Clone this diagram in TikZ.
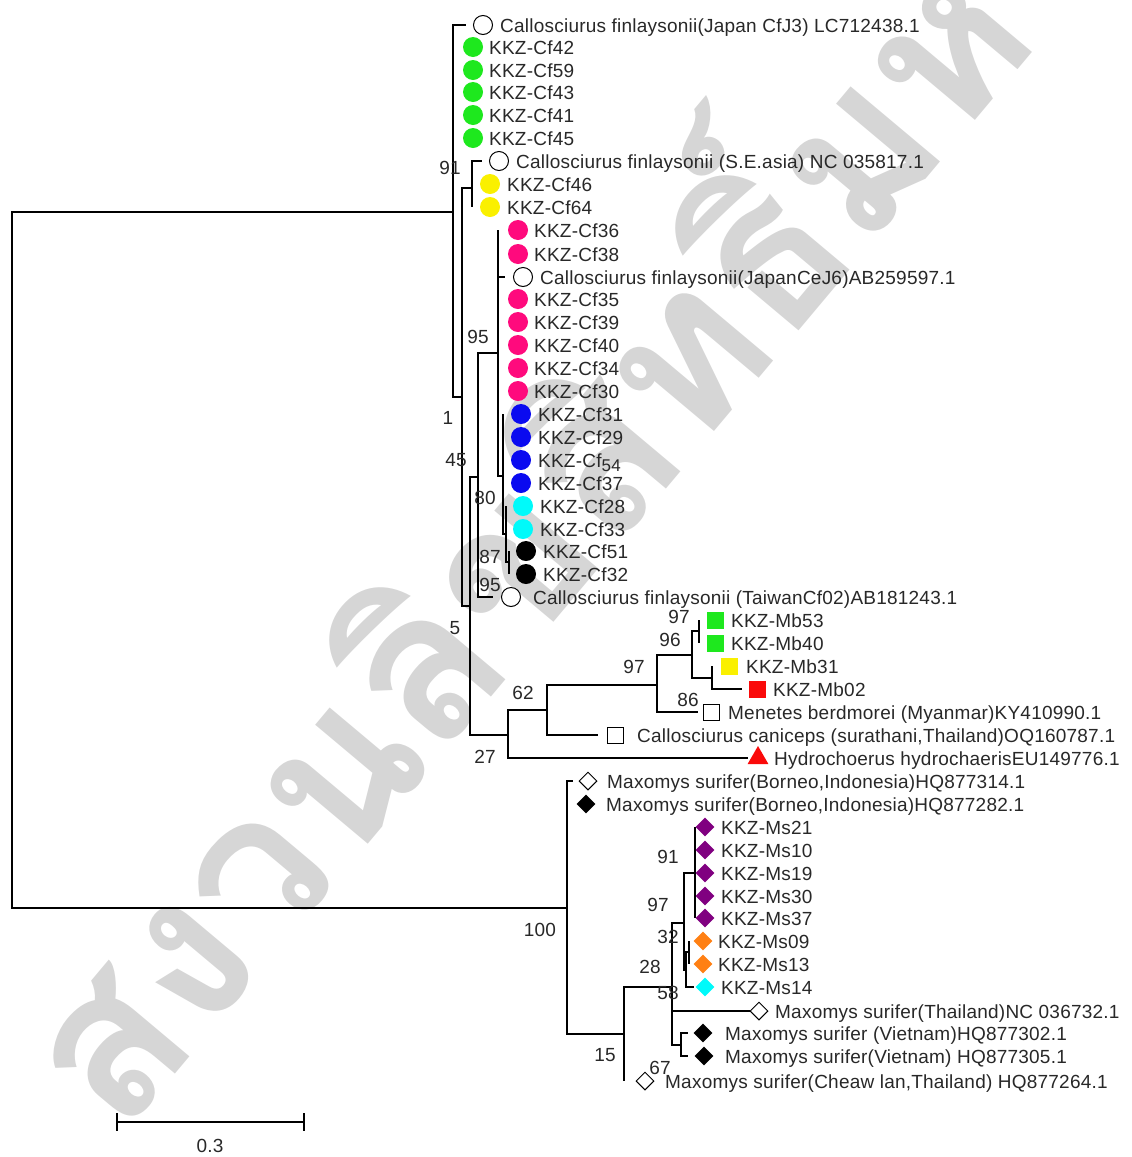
\documentclass[tikz,border=0pt]{standalone}
\usepackage{fontspec}
\setmainfont[LetterSpace=1.2]{Liberation Sans}
\newfontfamily\thaifont[Script=Thai]{Loma}
\usetikzlibrary{shapes.geometric}
\newcommand\treefont{\fontsize{19}{22}\selectfont}
\definecolor{cgreen}{RGB}{30,232,30}
\definecolor{cyellow}{RGB}{250,240,0}
\definecolor{cpink}{RGB}{255,10,125}
\definecolor{cblue}{RGB}{10,10,240}
\definecolor{ccyan}{RGB}{0,250,250}
\definecolor{cpurple}{RGB}{128,0,128}
\definecolor{corange}{RGB}{255,128,20}
\definecolor{cred}{RGB}{250,10,10}
\definecolor{ctext}{RGB}{40,40,40}
\definecolor{cwm}{RGB}{214,214,214}
\tikzset{
  br/.style={line width=2.2pt, line join=miter},
  lbl/.style={anchor=west, inner sep=0pt, font=\treefont, text=ctext, text height=14pt, text depth=0pt},
  bsl/.style={inner sep=0pt, font=\treefont, text=ctext},
  dot/.style={circle, fill=#1, minimum size=20pt, inner sep=0pt},
  oc/.style={circle, draw=black, line width=1pt, fill=white, minimum size=19pt, inner sep=0pt},
  sq/.style={rectangle, fill=#1, minimum size=17pt, inner sep=0pt},
  osq/.style={rectangle, draw=black, line width=1pt, fill=white, minimum size=16pt, inner sep=0pt},
  dm/.style={diamond, fill=#1, minimum width=19pt, minimum height=19pt, inner sep=0pt},
  odm/.style={diamond, draw=black, line width=1pt, fill=white, minimum width=18pt, minimum height=18pt, inner sep=0pt},
  tri/.style={regular polygon, regular polygon sides=3, fill=cred, minimum size=24pt, inner sep=0pt},
  wm/.style={inner sep=0pt, text=cwm, font=\thaifont\bfseries\fontsize{210}{210}\selectfont}
}
% name, parent, tip x, y, marker style, marker x, text x, text
\newcommand\leaf[8]{%
  \coordinate (t#1) at (#3,#4);
  \draw[br] (#2) |- (t#1);
  \node[#5] (m#1) at (#6,#4) {};
  \node[lbl] (l#1) at (#7,#4) {#8};
}
\begin{document}
\begin{tikzpicture}[x=1pt,y=-1pt]
\useasboundingbox (0,0) rectangle (1132,1157);
\begin{scope}
\clip (0,0) rectangle (1132,1157);
\node[wm, rotate=50, anchor=base west] (wm) at (120,1140) {สงวนลิขสิทธิ์มหาวิทยาลัยขอนแก่น};
\end{scope}

% internal nodes
\coordinate (R) at (12,560.5);
\coordinate (U) at (453,212);
\coordinate (N1) at (462,397);
\coordinate (N91) at (472,188);
\coordinate (N5) at (470,606);
\coordinate (N45) at (478,477);
\coordinate (N95a) at (498,353);
\coordinate (N80) at (503,476);
\coordinate (N87) at (506,534);
\coordinate (N95b) at (509,562);
\coordinate (N27) at (508,735);
\coordinate (N62) at (547,710);
\coordinate (N97a) at (657,685);
\coordinate (N96) at (692,655);
\coordinate (N97b) at (699,631);
\coordinate (NM) at (712,678);
\coordinate (N100) at (567,908);
\coordinate (N15) at (624,1034);
\coordinate (N28) at (672,987);
\coordinate (N97m) at (684,923);
\coordinate (N91m) at (695,873);
\coordinate (N58) at (686,970);
\coordinate (N32) at (689,952);
\coordinate (N67) at (681,1045);

\draw[br] (R) |- (U);
\draw[br] (R) |- (N100);
\draw[br] (U) |- (N1);
\draw[br] (N1) |- (N91);
\draw[br] (N1) |- (N5);
\draw[br] (N5) |- (N45);
\draw[br] (N5) |- (N27);
\draw[br] (N45) |- (N95a);
\draw[br] (N95a) |- (N80);
\draw[br] (N80) |- (N87);
\draw[br] (N87) |- (N95b);
\draw[br] (N27) |- (N62);
\draw[br] (N62) |- (N97a);
\draw[br] (N97a) |- (N96);
\draw[br] (N96) |- (N97b);
\draw[br] (N96) |- (NM);
\draw[br] (N100) |- (N15);
\draw[br] (N15) |- (N28);
\draw[br] (N28) |- (N97m);
\draw[br] (N28) |- (N67);
\draw[br] (N97m) |- (N91m);
\draw[br] (N97m) |- (N58);
\draw[br] (N58) |- (N32);

% leaves
\leaf{a1}{U}{466}{25}{oc}{483}{500}{Callosciurus finlaysonii(Japan CfJ3) LC712438.1}
\leaf{a2}{U}{453}{47}{dot=cgreen}{473}{489}{KKZ-Cf42}
\leaf{a3}{U}{453}{70}{dot=cgreen}{473}{489}{KKZ-Cf59}
\leaf{a4}{U}{453}{92}{dot=cgreen}{473}{489}{KKZ-Cf43}
\leaf{a5}{U}{453}{115}{dot=cgreen}{473}{489}{KKZ-Cf41}
\leaf{a6}{U}{453}{138}{dot=cgreen}{473}{489}{KKZ-Cf45}
\leaf{a7}{N91}{482}{161}{oc}{499}{516}{Callosciurus finlaysonii (S.E.asia) NC 035817.1}
\leaf{a8}{N91}{472}{184}{dot=cyellow}{490}{507}{KKZ-Cf46}
\leaf{a9}{N91}{472}{207}{dot=cyellow}{490}{507}{KKZ-Cf64}
\leaf{a10}{N95a}{498}{230}{dot=cpink}{518}{534}{KKZ-Cf36}
\leaf{a11}{N95a}{498}{254}{dot=cpink}{518}{534}{KKZ-Cf38}
\leaf{a12}{N95a}{505}{277}{oc}{523}{540}{Callosciurus finlaysonii(JapanCeJ6)AB259597.1}
\leaf{a13}{N95a}{498}{299}{dot=cpink}{518}{534}{KKZ-Cf35}
\leaf{a14}{N95a}{498}{322}{dot=cpink}{518}{534}{KKZ-Cf39}
\leaf{a15}{N95a}{498}{345}{dot=cpink}{518}{534}{KKZ-Cf40}
\leaf{a16}{N95a}{498}{368}{dot=cpink}{518}{534}{KKZ-Cf34}
\leaf{a17}{N95a}{498}{391}{dot=cpink}{518}{534}{KKZ-Cf30}
\leaf{a18}{N80}{503}{414}{dot=cblue}{521}{538}{KKZ-Cf31}
\leaf{a19}{N80}{503}{437}{dot=cblue}{521}{538}{KKZ-Cf29}
\leaf{a20}{N80}{503}{460}{dot=cblue}{521}{538}{KKZ-Cf{\fontsize{17}{17}\selectfont\raisebox{-4pt}{54}}}
\leaf{a21}{N80}{503}{483}{dot=cblue}{521}{538}{KKZ-Cf37}
\leaf{a22}{N87}{506}{506}{dot=ccyan}{523}{540}{KKZ-Cf28}
\leaf{a23}{N87}{506}{529}{dot=ccyan}{523}{540}{KKZ-Cf33}
\leaf{a24}{N95b}{509}{551}{dot=black}{526}{543}{KKZ-Cf51}
\leaf{a25}{N95b}{509}{574}{dot=black}{526}{543}{KKZ-Cf32}
\leaf{a26}{N45}{493}{597}{oc}{511}{533}{Callosciurus finlaysonii (TaiwanCf02)AB181243.1}
\leaf{b1}{N97b}{699}{620}{sq=cgreen}{715}{731}{KKZ-Mb53}
\leaf{b2}{N97b}{699}{643}{sq=cgreen}{715}{731}{KKZ-Mb40}
\leaf{b3}{NM}{712}{666}{sq=cyellow}{729}{746}{KKZ-Mb31}
\leaf{b4}{NM}{742}{689}{sq=cred}{757}{773}{KKZ-Mb02}
\leaf{b5}{N97a}{698}{712}{osq}{711}{728}{Menetes berdmorei (Myanmar)KY410990.1}
\leaf{b6}{N62}{598}{735}{osq}{615}{637}{Callosciurus caniceps (surathani,Thailand)OQ160787.1}
\leaf{b7}{N27}{748}{758}{tri}{758}{774}{Hydrochoerus hydrochaerisEU149776.1}
\leaf{c1}{N100}{573}{781}{odm}{588}{607}{Maxomys surifer(Borneo,Indonesia)HQ877314.1}
\leaf{c2}{N100}{567}{804}{dm=black}{586}{606}{Maxomys surifer(Borneo,Indonesia)HQ877282.1}
\leaf{c3}{N91m}{695}{827}{dm=cpurple}{705}{721}{KKZ-Ms21}
\leaf{c4}{N91m}{695}{850}{dm=cpurple}{705}{721}{KKZ-Ms10}
\leaf{c5}{N91m}{695}{873}{dm=cpurple}{705}{721}{KKZ-Ms19}
\leaf{c6}{N91m}{695}{896}{dm=cpurple}{705}{721}{KKZ-Ms30}
\leaf{c7}{N91m}{695}{918}{dm=cpurple}{705}{721}{KKZ-Ms37}
\leaf{c8}{N32}{689}{941}{dm=corange}{703}{718}{KKZ-Ms09}
\leaf{c9}{N32}{689}{964}{dm=corange}{703}{718}{KKZ-Ms13}
\leaf{c10}{N58}{694}{987}{dm=ccyan}{705}{721}{KKZ-Ms14}
\leaf{c11}{N28}{750}{1011}{odm}{759}{775}{Maxomys surifer(Thailand)NC 036732.1}
\leaf{c12}{N67}{688}{1033}{dm=black}{703}{725}{Maxomys surifer (Vietnam)HQ877302.1}
\leaf{c13}{N67}{688}{1056}{dm=black}{704}{725}{Maxomys surifer(Vietnam) HQ877305.1}
\leaf{c14}{N15}{624}{1081}{odm}{645}{665}{Maxomys surifer(Cheaw lan,Thailand) HQ877264.1}

% bootstrap values
\node[bsl] (s1) at (450,168) {91};
\node[bsl] (s2) at (478,337) {95};
\node[bsl] (s3) at (448,418) {1};
\node[bsl] (s4) at (456,460) {45};
\node[bsl] (s5) at (485,498) {80};
\node[bsl] (s6) at (490,557) {87};
\node[bsl] (s7) at (490,585) {95};
\node[bsl] (s8) at (455,628) {5};
\node[bsl] (s9) at (679,617) {97};
\node[bsl] (s10) at (670,640) {96};
\node[bsl] (s11) at (634,667) {97};
\node[bsl] (s12) at (688,700) {86};
\node[bsl] (s13) at (523,693) {62};
\node[bsl] (s14) at (485,757) {27};
\node[bsl] (s15) at (540,930) {100};
\node[bsl] (s16) at (668,857) {91};
\node[bsl] (s17) at (658,905) {97};
\node[bsl] (s18) at (668,937) {32};
\node[bsl] (s19) at (650,967) {28};
\node[bsl] (s20) at (668,993) {58};
\node[bsl] (s21) at (605,1055) {15};
\node[bsl] (s22) at (660,1068) {67};

% scale bar
\coordinate (sbL) at (117,1122);
\coordinate (sbR) at (304,1122);
\draw[br] (sbL) -- (sbR);
\draw[br] (sbL) ++(0,-9) -- ++(0,18);
\draw[br] (sbR) ++(0,-9) -- ++(0,18);
\node[bsl] (sbt) at (210,1146) {0.3};
\end{tikzpicture}
\end{document}
